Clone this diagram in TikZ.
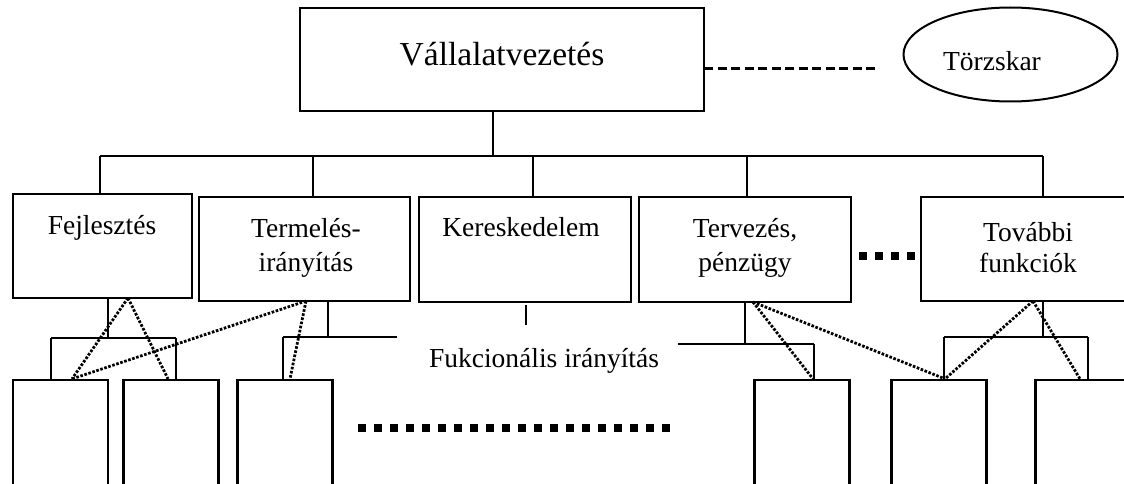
\documentclass[tikz,border=0pt]{standalone}
\usepackage{fontspec}
\setmainfont{Liberation Serif}
\usetikzlibrary{shapes.geometric}
\begin{document}
\begin{tikzpicture}[x=1pt,y=-1pt,
  unit/.style={draw, line width=2.2pt, rectangle, inner sep=0pt, minimum height=104pt},
  leaf/.style={draw, line width=2.2pt, rectangle, inner sep=0pt, minimum width=95pt, minimum height=140pt},
  wire/.style={line width=2.1pt},
  dotline/.style={line width=2.8pt, dash pattern=on 2.6pt off 1.6pt},
  sqdots/.style={line width=8pt, dash pattern=on 8pt off 8pt},
  staffdash/.style={line width=3pt, dash pattern=on 9pt off 4.5pt},
  lbl/.style={font=\fontsize{27.5}{33}\selectfont, inner sep=0pt, anchor=base},
  title/.style={font=\fontsize{33.5}{40}\selectfont, inner sep=0pt, anchor=base}
]
\useasboundingbox (0,0) rectangle (1124,484);
\clip (0,0) rectangle (1124,484);

% top management and staff
\node[unit, minimum width=404pt, minimum height=103pt] (top) at (502,59.5) {};
\node[title] (ttop) at (502,66) {Vállalatvezetés};
\node[draw, ellipse, line width=2pt, inner sep=0pt, minimum width=214pt, minimum height=94pt] (staff) at (1010.5,54.5) {};
\node[lbl] (tstaff) at (992,71) {Törzskar};
\coordinate (ds) at (704,69);
\coordinate (de) at (877,69);
\draw[staffdash] (ds) -- (de);

% functional units
\node[unit, minimum width=179pt] (fej) at (102.5,246) {};
\node[unit, minimum width=211pt] (term) at (304.5,249) {};
\node[unit, minimum width=212pt, minimum height=105pt] (ker) at (525,249.5) {};
\node[unit, minimum width=212pt, minimum height=105pt] (terv) at (745,249.5) {};
\node[unit, minimum width=214pt] (tov) at (1028,249) {};

\node[lbl] (tfej) at (102,234) {Fejlesztés};
\node[lbl] (tterm1) at (306,237) {Termelés-};
\node[lbl] (tterm2) at (306,271) {irányítás};
\node[lbl] (tker) at (521,236) {Kereskedelem};
\node[lbl] (tterv1) at (745,237) {Tervezés,};
\node[lbl] (tterv2) at (745,271) {pénzügy};
\node[lbl] (ttov1) at (1028,241) {További};
\node[lbl] (ttov2) at (1028,272) {funkciók};

% main bar
\coordinate (jtop) at (493,156);
\coordinate (j1) at (100,156);
\coordinate (j2) at (313,156);
\coordinate (j3) at (533,156);
\coordinate (j4) at (747,156);
\coordinate (j5) at (1043,156);
\draw[wire] (jtop) -- (jtop |- top.south);
\draw[wire] (j1) -- (j5);
\foreach \j/\n in {j1/fej, j2/term, j3/ker, j4/terv, j5/tov}
  \draw[wire] (\j) -- (\j |- \n.north);

% executing units
\node[leaf] (b1) at (60.5,450) {};
\node[leaf] (b2) at (171,450) {};
\node[leaf] (b3) at (285,450) {};
\node[leaf] (b4) at (802,450) {};
\node[leaf] (b5) at (939,450) {};
\node[leaf] (b6) at (1083,450) {};

% line links below the units
\coordinate (f0) at (108,338);
\coordinate (f1) at (51,338);
\coordinate (f2) at (176,338);
\draw[wire] (f0 |- fej.south) -- (f0);
\draw[wire] (f1) -- (f2);
\draw[wire] (f1) -- (f1 |- b1.north);
\draw[wire] (f2) -- (f2 |- b2.north);

\coordinate (t0) at (328,337);
\coordinate (t1) at (283,337);
\coordinate (t2) at (397,337);
\draw[wire] (t0 |- term.south) -- (t0);
\draw[wire] (t1) -- (t2);
\draw[wire] (t1) -- (t1 |- b3.north);

\coordinate (k0) at (526,305);
\coordinate (k1) at (526,325);
\draw[wire] (k0) -- (k1);

\coordinate (p0) at (745,344);
\coordinate (p1) at (678,344);
\coordinate (p2) at (814,344);
\draw[wire] (p0 |- terv.south) -- (p0);
\draw[wire] (p1) -- (p2);
\draw[wire] (p2) -- (p2 |- b4.north);

\coordinate (o0) at (1043,337);
\coordinate (o1) at (944,337);
\coordinate (o2) at (1088,337);
\draw[wire] (o0 |- tov.south) -- (o0);
\draw[wire] (o1) -- (o2);
\draw[wire] (o1) -- (o1 |- b5.north);
\draw[wire] (o2) -- (o2 |- b6.north);

\node[lbl] (tfunk) at (544,367) {Fukcionális irányítás};

% functional (dotted) links
\coordinate (fs) at (128,298);
\coordinate (ts) at (306,301);
\coordinate (ps) at (753,302);
\coordinate (os) at (1033,301);
\draw[dotline] (fs) -- (b1.north -| 72,0);
\draw[dotline] (fs) -- (b2.north -| 168,0);
\draw[dotline] (ts) -- (b1.north -| 72,0);
\draw[dotline] (ts) -- (b3.north -| 290,0);
\draw[dotline] (ps) -- (b4.north -| 813,0);
\draw[dotline] (ps) -- (b5.north -| 945,0);
\draw[dotline] (os) -- (b5.north -| 945,0);
\draw[dotline] (os) -- (b6.north -| 1080,0);

% ellipsis marks
\coordinate (e1) at (358,428);
\coordinate (e2) at (670,428);
\draw[sqdots] (e1) -- (e2);
\coordinate (e3) at (859,256);
\coordinate (e4) at (915,256);
\draw[sqdots] (e3) -- (e4);
\end{tikzpicture}
\end{document}
